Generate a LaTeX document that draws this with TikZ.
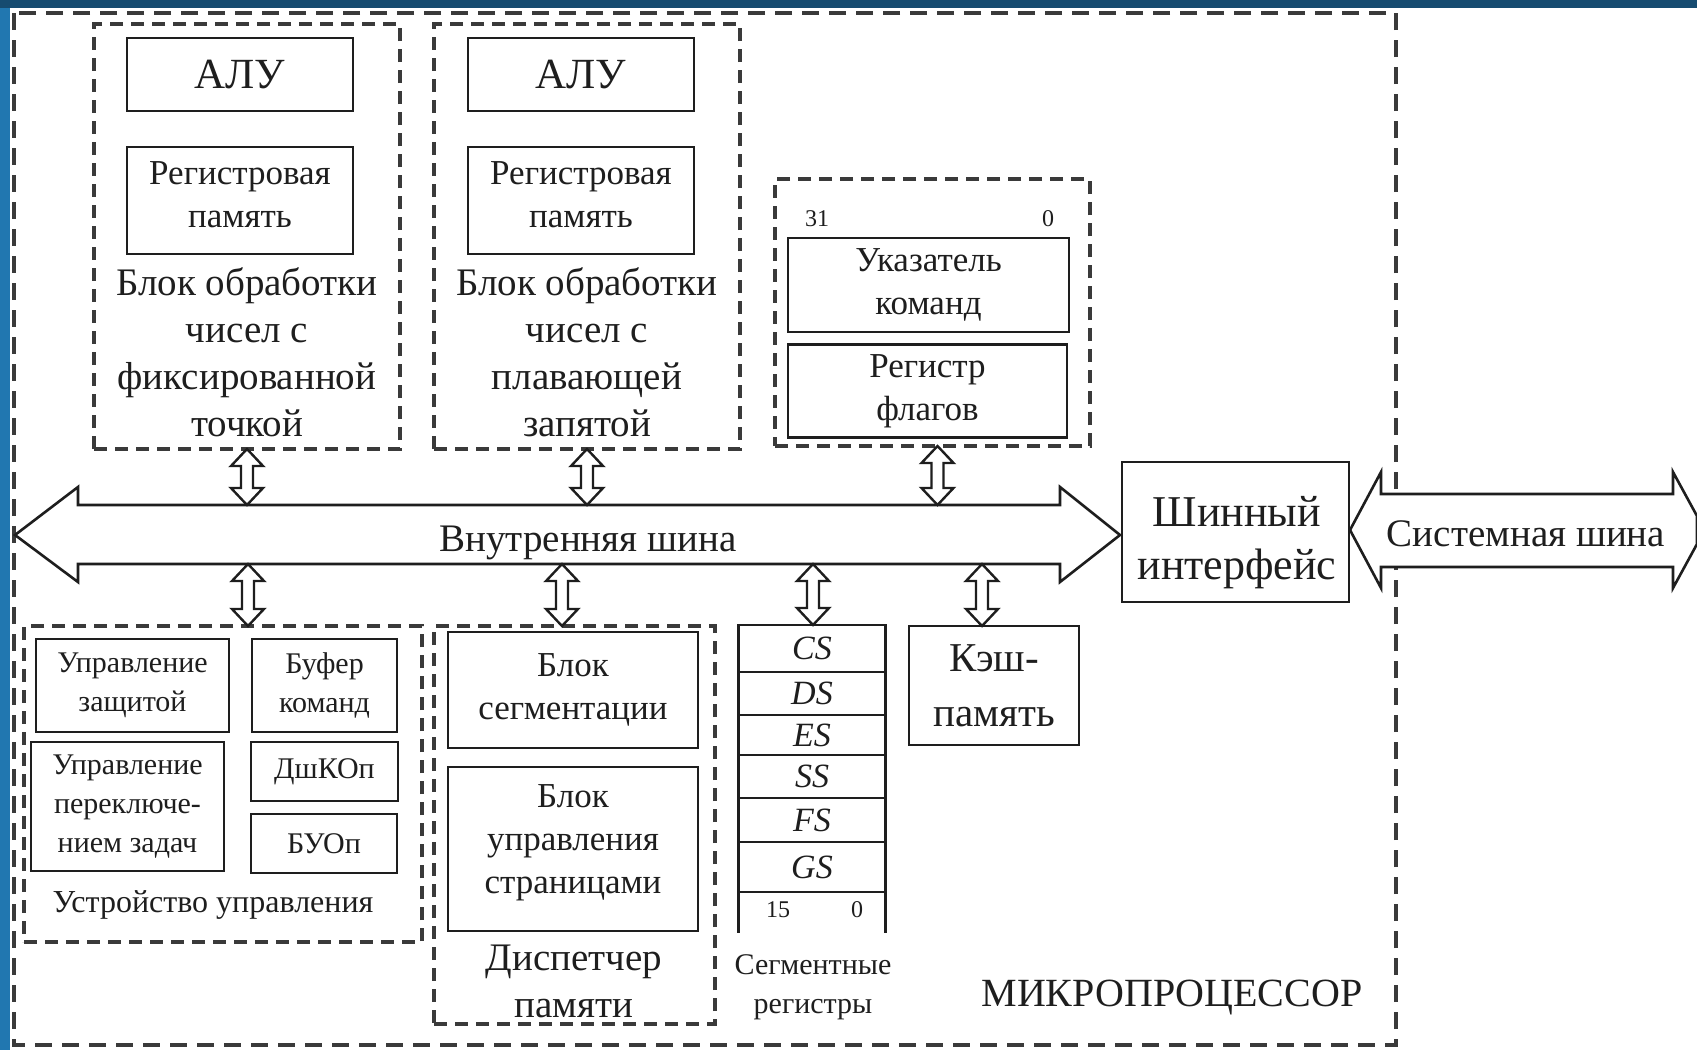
\documentclass[tikz,border=0pt]{standalone}
\usepackage{fontspec}
\setmainfont{Liberation Serif}
\usetikzlibrary{calc}
\definecolor{navy}{HTML}{164B70}
\definecolor{sideblue}{HTML}{2177B0}
\definecolor{ink}{HTML}{1E1E1E}
\definecolor{dashink}{HTML}{3A3A3A}
\newcommand\vbusarrow[2]{%
  \draw[vbus] let \p1=#1, \p2=#2 in
    (\x1,\y1) -- ({\x1+16pt},{\y1-17pt}) -- ({\x1+6pt},{\y1-17pt}) -- ({\x1+6pt},{\y2+17pt})
    -- ({\x1+16pt},{\y2+17pt}) -- (\x1,\y2) -- ({\x1-16pt},{\y2+17pt}) -- ({\x1-6pt},{\y2+17pt})
    -- ({\x1-6pt},{\y1-17pt}) -- ({\x1-16pt},{\y1-17pt}) -- cycle;}
\tikzset{
  box/.style={draw=ink, line width=2.8pt, rectangle, inner sep=0pt, outer sep=0pt, align=center, text=ink},
  dbox/.style={draw=dashink, line width=3.5pt, dash pattern=on 13pt off 8pt, rectangle, inner sep=0pt, outer sep=0pt},
  outerbox/.style={draw=dashink, line width=3.5pt, dash pattern=on 17pt off 10pt},
  lbl/.style={align=center, text=ink, inner sep=0pt},
  bus/.style={draw=ink, line width=2.6pt, fill=white, line join=miter},
  vbus/.style={draw=ink, line width=2.4pt, fill=white, line join=miter},
  fbig/.style={font=\fontsize{39}{47}\selectfont},
  falu/.style={font=\fontsize{43}{50}\selectfont},
  freg/.style={font=\fontsize{35}{43}\selectfont},
  fsmall/.style={font=\fontsize{30}{39}\selectfont},
  ftiny/.style={font=\fontsize{24}{28}\selectfont},
  fseg/.style={font=\fontsize{34}{40}\selectfont\itshape},
  fbi/.style={font=\fontsize{44}{53}\selectfont},
  segbox/.style={box, fseg, minimum width=147},
}
\begin{document}
\begin{tikzpicture}[x=1pt,y=-1pt]
\useasboundingbox (0,0) rectangle (1697,1050);
\fill[white] (0,0) rectangle (1697,1050);
\fill[sideblue] (0,0) rectangle (10,1050);
\fill[navy] (0,0) rectangle (1697,8);

% outer microprocessor boundary
\draw[outerbox] (14,13) rectangle (1396,1045);
\node[lbl, font=\fontsize{40}{46}\selectfont] (mp) at (1172,997) {МИКРОПРОЦЕССОР};

% fixed point block
\node[dbox, minimum width=306, minimum height=425] (fix) at (247,236.5) {};
\node[box, falu, minimum width=226, minimum height=73] (alu1) at (240,74.5) {АЛУ};
\node[box, minimum width=226, minimum height=107] (reg1) at (240,200.5) {};
\node[lbl, freg] (reg1t) at (240,195) {Регистровая\\память};
\node[lbl, fbig] (fixl) at (247,352) {Блок обработки\\чисел с\\фиксированной\\точкой};

% floating point block
\node[dbox, minimum width=306, minimum height=425] (flt) at (587,236.5) {};
\node[box, falu, minimum width=226, minimum height=73] (alu2) at (581,74.5) {АЛУ};
\node[box, minimum width=226, minimum height=107] (reg2) at (581,200.5) {};
\node[lbl, freg] (reg2t) at (581,195) {Регистровая\\память};
\node[lbl, fbig] (fltl) at (587,352) {Блок обработки\\чисел с\\плавающей\\запятой};

% general purpose registers
\node[dbox, minimum width=315, minimum height=267] (gp) at (932.5,312.5) {};
\node[lbl, ftiny] (b31) at (817,219) {31};
\node[lbl, ftiny] (b0) at (1048,219) {0};
\node[box, freg, minimum width=281, minimum height=94] (ip) at (928.5,285) {Указатель\\команд};
\node[box, freg, minimum width=279, minimum height=93] (fl) at (927.5,391) {Регистр\\флагов};

% internal bus
\draw[bus] (15,535) -- (78,487) -- (78,505) -- (1060,505) -- (1060,487) -- (1120,535)
  -- (1060,582) -- (1060,564) -- (78,564) -- (78,582) -- cycle;
\node[lbl, fbig] (ibl) at (588,543) {Внутренняя шина};
\coordinate (ibT) at (0,505);
\coordinate (ibB1) at (248,564);
\coordinate (ibB2) at (562,564);
\coordinate (ibB3) at (813,564);
\coordinate (ibB4) at (982,564);

% bus interface
\node[box, minimum width=227, minimum height=140] (bi) at (1235.5,532) {};
\node[lbl, fbi] (bit) at (1237,543) {Шинный\\интерфейс};

% system bus
\draw[bus] (1350,530) -- (1381,472) -- (1381,494) -- (1673,494) -- (1673,472) -- (1697,516)
  -- (1697,544) -- (1673,588) -- (1673,567) -- (1381,567) -- (1381,588) -- cycle;
\node[lbl, fbig] (sbl) at (1526,534) {Системная шина};

% control unit
\node[dbox, minimum width=398, minimum height=316] (uu) at (223,784) {};
\node[box, fsmall, minimum width=193, minimum height=93] (pz) at (132.5,685.5) {Управление\\защитой};
\node[box, fsmall, minimum width=145, minimum height=93] (bk) at (324.5,685.5) {Буфер\\команд};
\node[box, fsmall, minimum width=193, minimum height=129] (pt) at (127.5,806.5) {Управление\\переключе-\\нием задач};
\node[box, fsmall, minimum width=147, minimum height=59] (dk) at (324.5,771.5) {ДшКОп};
\node[box, fsmall, minimum width=146, minimum height=59] (bo) at (324,843.5) {БУОп};
\node[lbl, font=\fontsize{32}{39}\selectfont] (uul) at (213,905) {Устройство управления};

% memory manager
\node[dbox, minimum width=281, minimum height=398] (dm) at (574.5,825) {};
\node[box, freg, minimum width=250, minimum height=116] (bs) at (573,690) {Блок\\сегментации};
\node[box, minimum width=250, minimum height=164] (bp) at (573,849) {};
\node[lbl, freg] (bpt) at (573,843) {Блок\\управления\\страницами};
\node[lbl, fbig] (dml) at (574,981) {Диспетчер\\памяти};

% segment registers
\node[segbox, minimum height=47] (cs) at (812,648.5) {CS};
\node[segbox, minimum height=43] (ds) at (812,693.5) {DS};
\node[segbox, minimum height=40] (es) at (812,735) {ES};
\node[segbox, minimum height=43] (ss) at (812,776.5) {SS};
\node[segbox, minimum height=44] (fs) at (812,820) {FS};
\node[segbox, minimum height=50] (gs) at (812,867) {GS};
\draw[draw=ink, line width=2.8pt] (gs.south west) -- ++(0,41);
\draw[draw=ink, line width=2.8pt] (gs.south east) -- ++(0,41);
\node[lbl, ftiny] (s15) at (778,910) {15};
\node[lbl, ftiny] (s0) at (857,910) {0};
\node[lbl, fsmall] (segl) at (813,987) {Сегментные\\регистры};

% cache
\node[box, font=\fontsize{41}{55}\selectfont, minimum width=170, minimum height=119] (cache) at (994,685.5) {Кэш-\\память};

% vertical bus connections
\vbusarrow{(fix.south)}{(ibT)}
\vbusarrow{(flt.south)}{(ibT)}
\vbusarrow{($(gp.south)+(5,0)$)}{(ibT)}
\vbusarrow{(ibB1)}{(uu.north)}
\vbusarrow{(ibB2)}{(dm.north)}
\vbusarrow{(ibB3)}{(cs.north)}
\vbusarrow{(ibB4)}{(cache.north)}
\end{tikzpicture}
\end{document}
